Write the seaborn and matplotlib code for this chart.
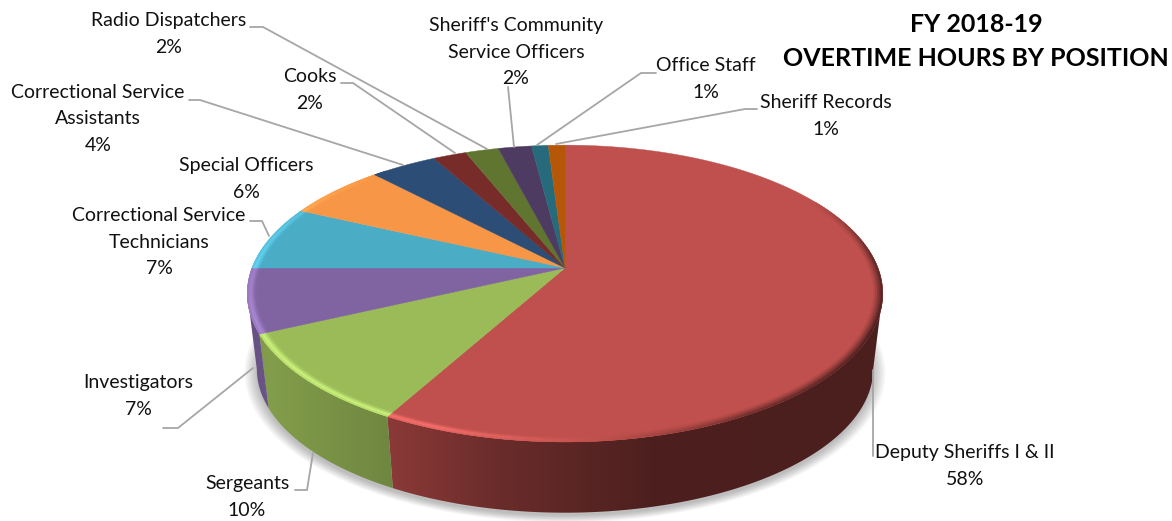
import numpy as np
import matplotlib
matplotlib.use("Agg")
import matplotlib.pyplot as plt
from matplotlib.collections import PolyCollection
from matplotlib.patches import Polygon
import seaborn as sns

# Overtime share by position, clockwise from twelve o'clock
positions = ["Deputy Sheriffs I & II", "Sergeants", "Investigators",
             "Correctional Service\nTechnicians", "Special Officers",
             "Correctional Service\nAssistants", "Cooks", "Radio Dispatchers",
             "Sheriff's Community\nService Officers", "Office Staff", "Sheriff Records"]
shares = [58, 10, 7, 7, 6, 4, 2, 2, 2, 1, 1]
slice_colors = ["#C0504D", "#9BBB59", "#8064A2", "#4BACC6", "#F79646", "#2C4D75",
                "#772C2A", "#5F7530", "#4D3B62", "#276A7C", "#B65708"]
title_lines = "FY 2018-19\nOVERTIME HOURS BY POSITION"

# Label anchors (centre x, centre y), in the order of the positions above
label_xy = [(965, 466), (247, 497), (138, 396), (159, 242), (246, 179), (98, 119),
            (310, 90), (169, 34), (516, 52), (706, 79), (826, 116)]
leaders = [[(873, 370), (873, 456)],
           [(313, 453), (307, 490), (295, 490)],
           [(253, 368), (178, 428), (163, 428)],
           [(250, 221), (262, 221), (269, 236)],
           [],
           [(189, 100), (200, 100), (403, 165)],
           [(341, 83), (353, 83), (455, 153)],
           [(250, 27), (263, 27), (487, 149)],
           [(508, 87), (514, 147)],
           [(656, 73), (641, 73), (537, 145)],
           [(757, 109), (745, 109), (556, 144)]]

sns.set_theme(style="white")
plt.rcParams["font.family"] = ["Lato", "DejaVu Sans"]
palette = np.array(sns.color_palette(slice_colors))

# Perspective disc: centre of the top face, half-axes and foreshortening
CX, TOP_Y, LOW_Y, LOW_SCALE = 565.0, 268.0, 344.0, 0.97
A, B, K = 313.0, 144.0, 0.172
# Angles where the disc outline turns; only the wall between them faces the viewer
WALL_FROM = np.degrees(np.arccos(-K))
WALL_TO = 360 - WALL_FROM
FRONT_SLICES = 3


def rim(t_deg, r=1.0, y0=TOP_Y, scale=1.0):
    t = np.radians(t_deg)
    u, v = r * np.sin(t), -r * np.cos(t)
    d = 1 - K * v
    return CX + scale * A * u / d, y0 + scale * B * v / d


fig = plt.figure(figsize=(11.72, 5.21), dpi=100, facecolor="white")
ax = fig.add_axes([0, 0, 1, 1])
ax.set_xlim(0, 1172)
ax.set_ylim(521, 0)
ax.axis("off")

edges = 360 * np.cumsum([0] + shares) / sum(shares)

# Soft drop shadow under the disc
ring = np.linspace(0, 360, 361)
for grow in np.linspace(1.04, 1.0, 10):
    sx, sy = rim(ring, y0=LOW_Y + 3, scale=LOW_SCALE * grow)
    ax.fill(sx, sy, color="black", alpha=0.028, lw=0, zorder=1)

# Side wall: a left-to-right gradient image clipped to each visible band
wall_x = [245, 270, 390, 500, 650, 885]
wall_f = [0.80, 0.84, 0.72, 0.55, 0.40, 0.39]
grad_x = np.linspace(240, 890, 651)
shade = np.interp(grad_x, wall_x, wall_f)
for i in range(FRONT_SLICES):
    t_from = max(edges[i], WALL_FROM)
    t_to = WALL_TO if i == FRONT_SLICES - 1 else edges[i + 1]
    steps = np.linspace(t_from, t_to, 200)
    xt, yt = rim(steps)
    xb, yb = rim(steps[::-1], y0=LOW_Y, scale=LOW_SCALE)
    band = Polygon(np.c_[np.r_[xt, xb], np.r_[yt, yb]], closed=True, transform=ax.transData)
    gradient = (shade[:, None] * palette[i])[None, :, :]
    img = ax.imshow(gradient, extent=(240, 890, 521, 0), aspect="auto",
                    interpolation="bilinear", zorder=2)
    img.set_clip_path(band)
ax.set_xlim(0, 1172)
ax.set_ylim(521, 0)

# Top face
for i, color in enumerate(palette):
    steps = np.linspace(edges[i], edges[i + 1], max(4, int(edges[i + 1] - edges[i]) * 2))
    x, y = rim(steps)
    ax.fill(np.r_[CX, x], np.r_[TOP_Y, y], color=color, lw=0.3, zorder=3)

# Bevelled rim: a highlight on the lower left, a soft shade on the right
glow_t = [0, 60, 85, 115, 150, 175, 200, 250, 290, 320, 360]
glow_v = [0, 0, -0.8, -1.0, -0.7, 0.0, 0.8, 0.8, 0.45, 0, 0]
radii = np.linspace(0.972, 1.0, 6)
profile = [0.1, 0.4, 0.8, 1.0, 0.7]
polys, cols = [], []
for i, color in enumerate(palette):
    steps = np.linspace(edges[i], edges[i + 1], max(3, int((edges[i + 1] - edges[i]) * 1.5)))
    for a, b in zip(steps[:-1], steps[1:]):
        g = np.interp((a + b) / 2, glow_t, glow_v)
        if g == 0:
            continue
        for j in range(len(radii) - 1):
            x0, y0 = rim(a, radii[j])
            x1, y1 = rim(b, radii[j])
            x2, y2 = rim(b, radii[j + 1])
            x3, y3 = rim(a, radii[j + 1])
            if g > 0:
                lift = g * profile[j]
                c = color * (1 + 0.28 * lift) + 0.07 * lift
            else:
                c = color * (1 - 0.6 * (-g) * ((j + 1) / (len(radii) - 1)) ** 1.3)
            polys.append([(x0, y0), (x1, y1), (x2, y2), (x3, y3)])
            cols.append(np.clip(c, 0, 1))
ax.add_collection(PolyCollection(polys, facecolors=cols, edgecolors=cols, linewidths=0.3, zorder=4))

# Leader lines and labels
for pts in leaders:
    if pts:
        xs, ys = zip(*pts)
        ax.plot(xs, ys, color="#A6A6A6", lw=1.3, solid_joinstyle="miter", zorder=5)
for name, value, (lx, ly) in zip(positions, shares, label_xy):
    ax.text(lx, ly, f"{name}\n{value}%", ha="center", va="center", fontsize=14,
            color="#111111", linespacing=1.67, zorder=6)

ax.text(976, 41.5, title_lines, ha="center", va="center", fontsize=18, fontweight="bold",
        color="black", linespacing=1.62, zorder=6)

fig.savefig("out.png", dpi=100)
